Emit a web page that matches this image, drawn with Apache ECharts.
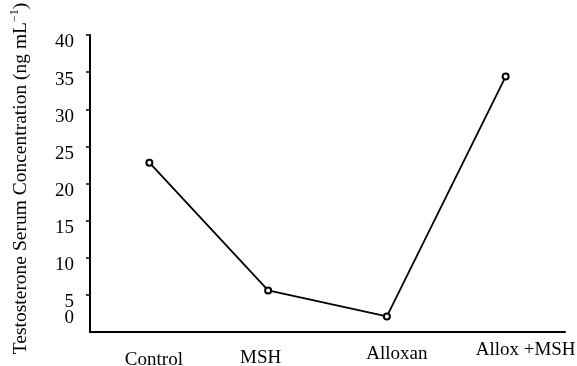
<!DOCTYPE html>
<html>
<head>
<meta charset="utf-8">
<script src="https://cdn.jsdelivr.net/npm/echarts@6/dist/echarts.min.js"></script>
<style>html,body{margin:0;padding:0;background:#fff}#c{width:577px;height:366px}</style>
</head>
<body>
<div id="c"></div>
<script>
var categories = ['Control', 'MSH', 'Alloxan', 'Allox +MSH'];
var testosterone = [22.8, 5.6, 2.1, 34.4];
var yTicks = [0, 5, 10, 15, 20, 25, 30, 35, 40];

var font = '"Liberation Serif", "Times New Roman", serif';
var chart = echarts.init(document.getElementById('c'), null, {renderer: 'canvas'});
// per-label nudges (styling only)
var xRich = {
  c0: {padding: [10, 0, 0, 9]},
  c1: {padding: [8, 15, 0, 0]},
  c2: {padding: [4, 0, 0, 20]},
  c3: {padding: [0, 0, 0, 40]}
};
Object.keys(xRich).forEach(function (k) {
  xRich[k].fontFamily = font; xRich[k].fontSize = 19; xRich[k].color = '#000';
});
var yMin = yTicks[0], yMax = yTicks[yTicks.length - 1], yStep = yTicks[1] - yTicks[0];
chart.setOption({
  animation: false,
  backgroundColor: '#fff',
  grid: {left: 90, right: 12, top: 35, bottom: 34, containLabel: false, outerBoundsMode: 'none'},
  xAxis: {
    type: 'category',
    data: categories,
    boundaryGap: true,
    axisLine: {lineStyle: {color: '#000', width: 2}},
    axisTick: {alignWithLabel: true, length: 5, lineStyle: {color: '#000', width: 1.5}},
    axisLabel: {
      margin: 9,
      interval: 0,
      hideOverlap: false,
      formatter: function (v, i) { return '{c' + i + '|' + v + '}'; },
      rich: xRich
    }
  },
  yAxis: [{
    type: 'value',
    min: yMin,
    max: yMax,
    interval: yStep,
    name: 'Testosterone Serum Concentration (ng mL{sup|−1})',
    nameLocation: 'middle',
    nameGap: 57,
    nameRotate: 90,
    nameTextStyle: {
      fontFamily: font, fontSize: 19.5, color: '#000', padding: [0, 0, 0, 10],
      rich: {sup: {fontFamily: font, fontSize: 12, color: '#000', padding: [0, 0, 12, 0]}}
    },
    splitLine: {show: false},
    axisLine: {show: true, lineStyle: {color: '#000', width: 2}},
    axisTick: {show: true, length: 4, lineStyle: {color: '#000', width: 1.5}},
    axisLabel: {
      margin: 16,
      showMinLabel: false,
      showMaxLabel: true,
      hideOverlap: false,
      formatter: function (v) { return '{a|' + v + '}'; },
      rich: {
        a: {fontFamily: font, fontSize: 19, color: '#000', padding: [15, 0, 0, 0]}
      }
    }
  }, {
    type: 'value',
    position: 'left',
    min: yMin,
    max: yMax,
    interval: yStep,
    splitLine: {show: false},
    axisLine: {show: false},
    axisTick: {show: false},
    axisLabel: {
      margin: 16,
      showMinLabel: true,
      hideOverlap: false,
      formatter: function (v) { return v === 0 ? '{z|0}' : ''; },
      rich: {
        z: {fontFamily: font, fontSize: 19, color: '#000', padding: [0, 0, 28, 0]}
      }
    }
  }],
  series: [{
    type: 'line',
    data: testosterone,
    symbol: 'emptyCircle',
    symbolSize: 6,
    lineStyle: {color: '#000', width: 1.8},
    itemStyle: {color: '#000', borderColor: '#000', borderWidth: 1.5}
  }]
});
</script>
</body>
</html>
